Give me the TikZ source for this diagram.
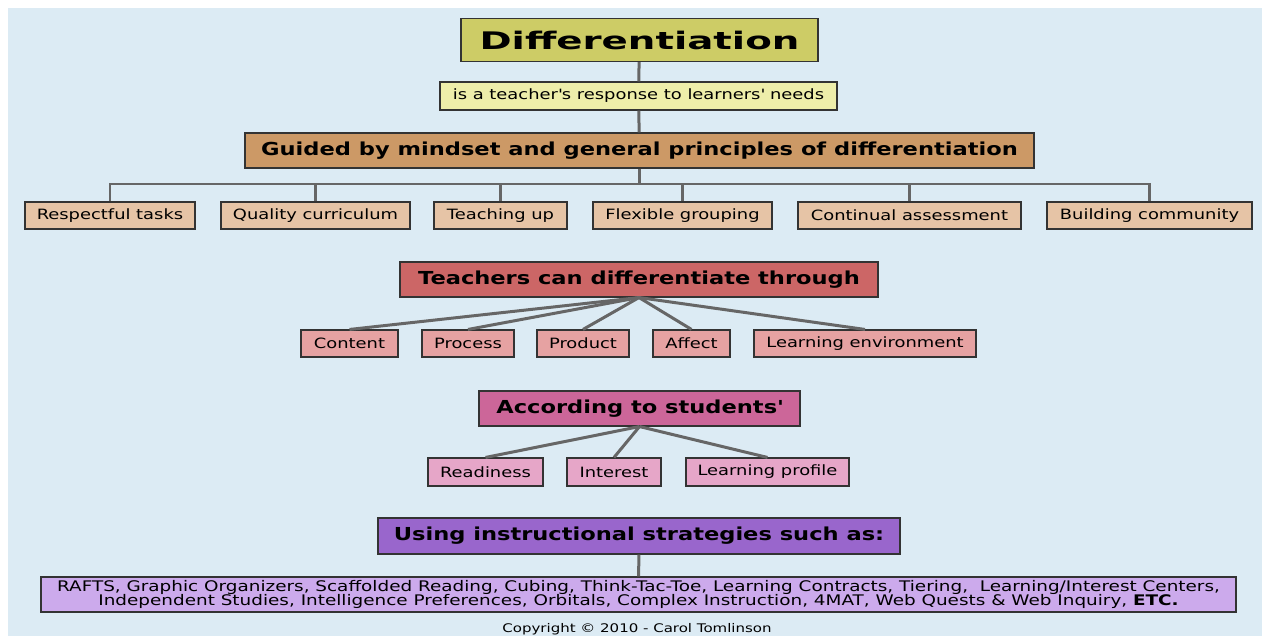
\documentclass[tikz,border=0pt]{standalone}
\usepackage{fontspec}
\setmainfont[FakeStretch=1.26]{DejaVu Sans}
\newfontfamily\titlefont[FakeStretch=1.6]{DejaVu Sans}
\newcommand{\tightlines}{\lineskiplimit=-20pt\relax}
\definecolor{bgblue}{RGB}{220,235,244}
\definecolor{linkgray}{RGB}{102,102,102}
\definecolor{olive}{RGB}{205,204,102}
\definecolor{paleolive}{RGB}{238,238,170}
\definecolor{tan}{RGB}{204,153,102}
\definecolor{paletan}{RGB}{230,196,166}
\definecolor{brick}{RGB}{204,102,102}
\definecolor{palebrick}{RGB}{230,162,162}
\definecolor{rose}{RGB}{204,102,153}
\definecolor{palerose}{RGB}{230,166,200}
\definecolor{violet}{RGB}{153,102,204}
\definecolor{paleviolet}{RGB}{204,170,236}
\begin{document}
\begin{tikzpicture}[x=1pt,y=-1pt,
    box/.style={draw=black!80,line width=1.1pt,inner sep=0pt,font=\fontsize{14.2}{16}\selectfont},
    head/.style={box,minimum height=35pt,font=\fontsize{17.9}{20}\selectfont\bfseries},
    link/.style={draw=linkgray,line width=3pt}]
  \useasboundingbox (0,0) rectangle (1266,636);
  \fill[bgblue] (8,8) rectangle (1262,636);

  \node[box,fill=olive,minimum width=357pt,minimum height=43pt,font=\fontsize{24.2}{26}\selectfont\titlefont\bfseries] (diff) at (639.5,40) {Differentiation};
  \node[box,fill=paleolive,minimum width=397pt,minimum height=28pt] (resp) at (638.5,96) {is a teacher\textquotesingle s response to learners\textquotesingle{} needs};
  \node[head,fill=tan,minimum width=789pt] (guide) at (639.5,150.5) {Guided by mindset and general principles of differentiation};
  \coordinate (bus) at (639.5,184);
  \draw[link] (diff) -- (resp);
  \draw[link] (resp) -- (guide);
  \draw[link] (guide) -- (bus);

  \foreach \x/\w/\t [count=\i] in {110/170/Respectful tasks, 315.5/189/Quality curriculum, 500.5/133/Teaching up,
      682.5/179/Flexible grouping, 909.5/223/Continual assessment, 1149.5/205/Building community}
    \node[box,fill=paletan,minimum width=\w pt,minimum height=27pt] (p\i) at (\x,215.5) {\t};
  \foreach \i in {1,...,6} \draw[linkgray,line width=2.5pt] (bus) -| (p\i.north);

  \node[head,fill=brick,minimum width=478pt] (teach) at (639,279.5) {Teachers can differentiate through};
  \foreach \x/\w/\t [count=\i] in {349.5/97/Content, 468/92/Process, 583/92/Product, 691.5/77/Affect, 865/222/Learning environment}
    \node[box,fill=palebrick,minimum width=\w pt,minimum height=27pt] (w\i) at (\x,343.5) {\t};
  \foreach \i in {1,...,5} \draw[link] (teach.south) -- (w\i.north);

  \node[head,fill=rose,minimum width=321pt] (stud) at (639.5,408.5) {According to students\textquotesingle};
  \foreach \x/\w/\t [count=\i] in {485.5/115/Readiness, 614/94/Interest, 767.5/163/Learning profile}
    \node[box,fill=palerose,minimum width=\w pt,minimum height=28pt] (s\i) at (\x,472) {\t};
  \foreach \i in {1,2,3} \draw[link] (stud.south) -- (s\i.north);

  \node[head,fill=violet,minimum width=522pt,minimum height=36pt] (using) at (639,536) {Using instructional strategies such as:};
  \node[box,fill=paleviolet,minimum width=1195pt,minimum height=35pt,align=center,
      font=\fontsize{14.6}{14}\selectfont\tightlines] (strat) at (638.5,594.5)
    {RAFTS, Graphic Organizers, Scaffolded Reading, Cubing, Think-Tac-Toe, Learning Contracts, Tiering,\ \ Learning/Interest Centers,\\
     Independent Studies, Intelligence Preferences, Orbitals, Complex Instruction, 4MAT, Web Quests \& Web Inquiry, \textbf{ETC.}};
  \draw[link] (using) -- (strat);

  \node[font=\fontsize{11.9}{13}\selectfont] (copy) at (637,629) {Copyright © 2010 - Carol Tomlinson};
\end{tikzpicture}
\end{document}
